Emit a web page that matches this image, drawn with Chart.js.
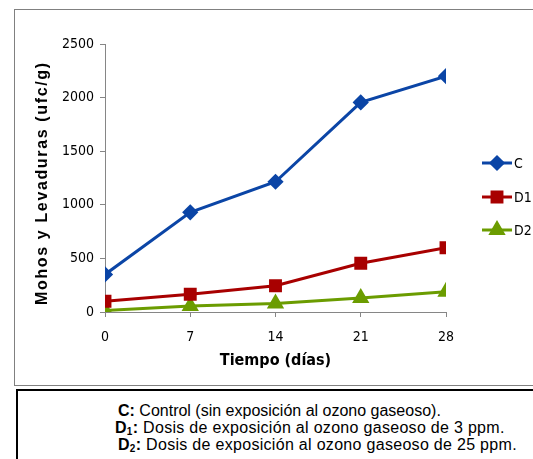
<!DOCTYPE html>
<html>
<head>
<meta charset="utf-8">
<script src="https://cdn.jsdelivr.net/npm/chart.js@4.4.1/dist/chart.umd.min.js"></script>
<style>
  body { margin: 0; background: #fff; width: 533px; height: 459px; overflow: hidden; position: relative; }
  #marco { position: absolute; left: 14px; top: 9px; width: 540px; height: 375px; border: 1.5px solid #808080; }
  #wrap { position: absolute; left: 0; top: 0; width: 533px; height: 386px; }
  #nota { position: absolute; left: 16px; top: 389px; width: 540px; height: 100px; border: 2px solid #000;
          font-family: "Liberation Sans", Arial, sans-serif; font-size: 16px; line-height: 17px; color: #000; }
  #nota div { position: absolute; white-space: nowrap; }
  #nota .d { letter-spacing: 0.3px; }
  sub { font-size: 10px; vertical-align: -2px; line-height: 0; }
</style>
</head>
<body>
<div id="marco"></div>
<div id="wrap"><canvas id="grafico" width="533" height="386"></canvas></div>
<div id="nota">
  <div style="left:100px; top:11px"><b>C:</b> Control (sin exposición al ozono gaseoso).</div>
  <div class="d" style="left:97px; top:28px"><b>D<sub>1</sub>:</b> Dosis de exposición al ozono gaseoso de 3 ppm.</div>
  <div class="d" style="left:100px; top:45px"><b>D<sub>2</sub>:</b> Dosis de exposición al ozono gaseoso de 25 ppm.</div>
</div>
<script>
const dias = [0, 7, 14, 21, 28];
const valoresC = [350, 930, 1215, 1955, 2200];
const valoresD1 = [100, 165, 245, 455, 600];
const valoresD2 = [15, 55, 80, 130, 190];
const series = ['C', 'D1', 'D2'];
const tituloY = 'Mohos y Levaduras (ufc/g)';

const fuenteNarrow = '"DejaVu Sans Condensed", "DejaVu Sans", sans-serif';

function puntos(valores) {
  return dias.map((d, i) => ({ x: d, y: valores[i] }));
}

// leyenda propia: linea con el marcador en medio, como en Excel
const leyenda = {
  id: 'leyenda',
  afterDraw(chart) {
    const ctx = chart.ctx;
    const filas = [163, 197, 230];
    chart.data.datasets.forEach((ds, i) => {
      const y = filas[i];
      ctx.save();
      ctx.strokeStyle = ds.borderColor;
      ctx.lineWidth = 3;
      ctx.beginPath();
      ctx.moveTo(482, y);
      ctx.lineTo(512, y);
      ctx.stroke();
      ctx.fillStyle = ds.borderColor;
      Chart.helpers.drawPoint(ctx, {
        pointStyle: ds.pointStyle, radius: ds.pointRadius, borderWidth: 1
      }, 497, y);
      ctx.fillStyle = '#000';
      ctx.font = 'condensed 14px ' + fuenteNarrow;
      ctx.textBaseline = 'middle';
      ctx.fillText(ds.label, 514, y + 1);
      ctx.restore();
    });

    // titulo del eje Y, letra por letra para abrirlo hasta ~242px
    ctx.save();
    ctx.translate(43, 184);
    ctx.rotate(-Math.PI / 2);
    ctx.font = 'bold 16px "Liberation Sans", Arial, sans-serif';
    ctx.fillStyle = '#000';
    ctx.textBaseline = 'middle';
    const letras = tituloY.split('');
    const anchos = letras.map(c => ctx.measureText(c).width);
    const total = anchos.reduce((a, b) => a + b, 0);
    const largo = 242;
    const extra = (largo - total) / (letras.length - 1);
    let x = -largo / 2;
    letras.forEach((c, i) => {
      ctx.fillText(c, x, 0);
      x += anchos[i] + extra;
    });
    ctx.restore();
  }
};

new Chart(document.getElementById('grafico'), {
  type: 'line',
  data: {
    datasets: [
      { label: series[0], data: puntos(valoresC), borderColor: '#0b45a6', backgroundColor: '#0b45a6',
        pointStyle: 'rectRot', pointRadius: 6, borderWidth: 3 },
      { label: series[1], data: puntos(valoresD1), borderColor: '#a80000', backgroundColor: '#a80000',
        pointStyle: 'rect', pointRadius: 7, borderWidth: 3 },
      { label: series[2], data: puntos(valoresD2), borderColor: '#6b9c00', backgroundColor: '#6b9c00',
        pointStyle: 'triangle', pointRadius: 7, borderWidth: 3 }
    ]
  },
  options: {
    responsive: false,
    animation: false,
    layout: { padding: { left: 0, right: 87, top: 44, bottom: 0 } },
    plugins: { legend: { display: false }, tooltip: { enabled: false } },
    scales: {
      x: {
        type: 'linear', min: 0, max: 28,
        ticks: { stepSize: 7, color: '#000', padding: 12, callback: v => v,
                 font: { family: fuenteNarrow, size: 14, weight: 'condensed' } },
        grid: { drawOnChartArea: false, tickLength: 5, color: '#868686' },
        border: { color: '#868686', width: 1 },
        title: { display: true, text: 'Tiempo (días)', color: '#000', padding: { top: 0, bottom: 16 },
                 font: { family: fuenteNarrow, size: 16, weight: 'bold condensed' } },
        afterFit: s => { s.height = 74; }
      },
      y: {
        min: 0, max: 2500,
        ticks: { stepSize: 500, color: '#000', padding: 6, callback: v => v,
                 font: { family: fuenteNarrow, size: 14, weight: 'condensed' } },
        grid: { drawOnChartArea: false, tickLength: 5, color: '#868686' },
        border: { color: '#868686', width: 1 },
        title: { display: false },
        afterFit: s => { s.width = 105; }
      }
    }
  },
  plugins: [leyenda]
});
</script>
</body>
</html>
